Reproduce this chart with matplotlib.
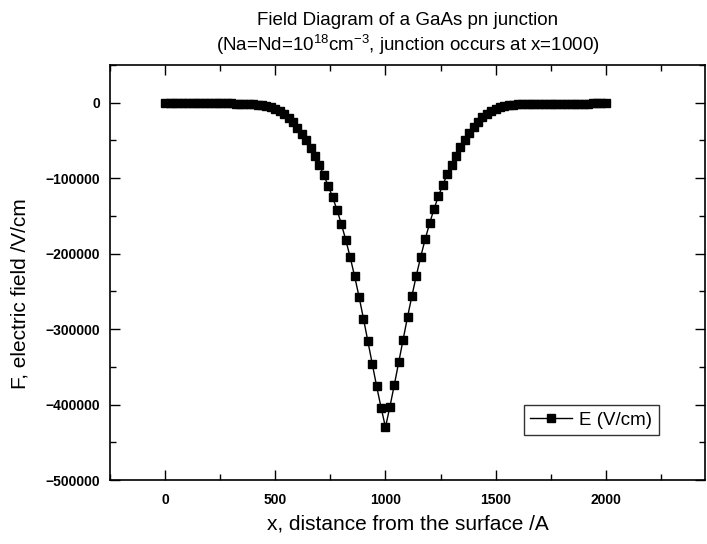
import numpy as np
import matplotlib
matplotlib.use("Agg")
import matplotlib.pyplot as plt
from matplotlib.ticker import MultipleLocator

plt.rcParams['font.family'] = ['Liberation Sans', 'DejaVu Sans']
plt.rcParams['mathtext.fontset'] = 'custom'
plt.rcParams['mathtext.rm'] = 'Liberation Sans'

# sampling positions along the device (Angstrom)
x_pos = np.arange(0, 2001, 20)

# field values (V/cm), left of the junction ...
field_left = [
    -100, -100, -150, -150, -200, -200, -250, -300, -350, -400,
    -450, -550, -650, -750, -850, -950, -1050, -1200, -1400, -1700,
    -2100, -2700, -3500, -4500, -6000, -8000, -11000, -15000, -20000, -26000,
    -33000, -41000, -50000, -60000, -71000, -83000, -96000, -110000, -125000, -142000,
    -161000, -182000, -205000, -230000, -257000, -286000, -316000, -346000, -376000, -404000,
    -430000,
]
# ... and right of it
field_right = [
    -403000, -374000, -344000, -314000, -284000, -256000, -229000, -204000, -181000, -160000,
    -141000, -124000, -109000, -95000, -82000, -70000, -59000, -49000, -40000, -32500,
    -25500, -19500, -14500, -10800, -7900, -5900, -4500, -3500, -2800, -2300,
    -1900, -1700, -1500, -1400, -1300, -1250, -1200, -1200, -1150, -1150,
    -1100, -1100, -1100, -1050, -1050, -1050, -1000, -1000, -1000, -1000,
]
field = np.array(field_left + field_right)

fig = plt.figure(figsize=(7.07, 5.44), dpi=100)
ax = fig.add_axes([0.1556, 0.1176, 0.8416, 0.7629])

ax.plot(x_pos, field, color='black', lw=1.0, marker='s', markersize=6,
        markerfacecolor='black', markeredgecolor='black', label='E (V/cm)')

ax.set_xlim(-250, 2450)
ax.set_ylim(-500000, 50000)
ax.xaxis.set_major_locator(MultipleLocator(500))
ax.xaxis.set_minor_locator(MultipleLocator(250))
ax.yaxis.set_major_locator(MultipleLocator(100000))
ax.yaxis.set_minor_locator(MultipleLocator(50000))

ax.tick_params(which='both', direction='in', top=True, right=True, width=1.0)
ax.tick_params(which='major', length=7)
ax.tick_params(which='minor', length=4.5)
ax.tick_params(axis='x', pad=9)
ax.tick_params(axis='y', pad=7)
for lab in ax.get_xticklabels() + ax.get_yticklabels():
    lab.set_fontsize(10)
    lab.set_fontweight('bold')
for sp in ax.spines.values():
    sp.set_linewidth(1.2)

ax.set_xlabel('x, distance from the surface /A', fontsize=15, labelpad=6)
ax.set_ylabel('F, electric field /V/cm', fontsize=15)
ax.yaxis.set_label_coords(-0.135, 0.45)
ax.set_title('Field Diagram of a GaAs pn junction\n'
             r'(Na=Nd=10$^{18}$cm$^{-3}$, junction occurs at x=1000)',
             fontsize=13.5, pad=10)

leg = ax.legend(loc='lower right', bbox_to_anchor=(0.938, 0.085), fontsize=13.5,
                frameon=True, fancybox=False, edgecolor='black',
                handlelength=2.2, borderpad=0.35, handletextpad=0.4)
leg.get_frame().set_linewidth(1.0)

fig.savefig('out.png', dpi=100)
